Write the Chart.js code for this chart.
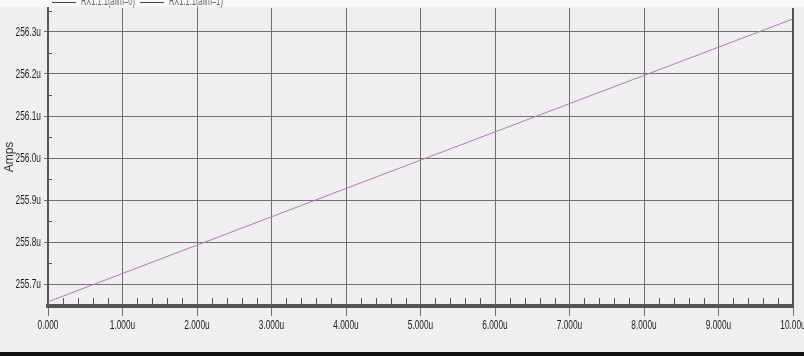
<!DOCTYPE html>
<html>
<head>
<meta charset="utf-8">
<script src="https://cdn.jsdelivr.net/npm/chart.js@4/dist/chart.umd.min.js"></script>
<style>
  html, body { margin: 0; padding: 0; background: #efefef; overflow: hidden; }
  #wrap { width: 804px; height: 352px; }
  #bar { width: 804px; height: 4px; background: #111; }
</style>
</head>
<body>
<div id="wrap"><canvas id="chart" width="804" height="352"></canvas></div>
<div id="bar"></div>
<script>
// time in microseconds, current in microamps
const timeUs = [0, 5, 10];
const ampsU = [255.658, 255.995, 256.331];
const xTicks = [0, 1, 2, 3, 4, 5, 6, 7, 8, 9, 10];
const xTickLabels = ['0.000', '1.000u', '2.000u', '3.000u', '4.000u', '5.000u', '6.000u', '7.000u', '8.000u', '9.000u', '10.00u'];
const yTicks = [255.7, 255.8, 255.9, 256.0, 256.1, 256.2, 256.3];
const yTickLabels = ['255.7u', '255.8u', '255.9u', '256.0u', '256.1u', '256.2u', '256.3u'];
const legendNames = ['RX1.1.1(alim=0)', 'RX1.1.1(alim=1)'];

const FONT = "'Liberation Sans', Arial, sans-serif";
const SQUISH = 0.64; // the screenshot text is horizontally narrow

// draw a horizontally condensed string
function narrowText(c, text, x, y, align, squish) {
  c.save();
  c.translate(x, y);
  c.scale(squish || SQUISH, 1);
  c.textAlign = align;
  c.fillText(text, 0, 0);
  c.restore();
}

const extras = {
  id: 'extras',
  beforeDraw(chart) {
    const c = chart.ctx;
    c.save();
    c.fillStyle = '#efefef';
    c.fillRect(0, 0, chart.width, chart.height);
    c.fillStyle = '#f8f8f8';
    c.fillRect(0, 0, chart.width, 7);
    c.restore();
  },
  afterDraw(chart) {
    const c = chart.ctx;
    const a = chart.chartArea;
    const x = chart.scales.x;
    const y = chart.scales.y;
    c.save();
    // minor ticks on x axis
    c.strokeStyle = '#555';
    c.lineWidth = 1;
    for (let i = 1; i < 50; i++) {
      if (i % 5 === 0) continue;
      const px = Math.round(x.getPixelForValue(i * 0.2)) + 0.5;
      c.beginPath();
      c.moveTo(px, a.bottom);
      c.lineTo(px, a.bottom - 8);
      c.stroke();
    }
    // minor ticks on y axis
    for (let v = 255.65; v < 256.36; v += 0.1) {
      const py = Math.round(y.getPixelForValue(v)) + 0.5;
      c.beginPath();
      c.moveTo(a.left, py);
      c.lineTo(a.left + 4, py);
      c.stroke();
    }
    // right border
    c.strokeStyle = '#555';
    c.lineWidth = 2;
    c.beginPath();
    c.moveTo(a.right, a.top);
    c.lineTo(a.right, a.bottom + 1);
    c.stroke();

    // tick labels
    c.fillStyle = '#1e1e1e';
    c.font = '13px ' + FONT;
    c.textBaseline = 'middle';
    yTicks.forEach((v, i) => {
      narrowText(c, yTickLabels[i], a.left - 7, y.getPixelForValue(v), 'right');
    });
    xTicks.forEach((v, i) => {
      narrowText(c, xTickLabels[i], x.getPixelForValue(v), a.bottom + 19, 'center');
    });

    // legend, clipped at top edge
    c.font = '12px ' + FONT;
    c.fillStyle = '#666';
    c.textBaseline = 'alphabetic';
    const legX = [52, 140];
    legendNames.forEach((name, i) => {
      c.strokeStyle = '#444';
      c.lineWidth = 1;
      c.beginPath();
      c.moveTo(legX[i], 2.5);
      c.lineTo(legX[i] + 24, 2.5);
      c.stroke();
      narrowText(c, name, legX[i] + 29, 5, 'left', 0.62);
    });
    c.restore();
  }
};

new Chart(document.getElementById('chart'), {
  type: 'line',
  data: {
    datasets: [{
      label: legendNames[0],
      data: timeUs.map((t, i) => ({ x: t, y: ampsU[i] })),
      borderColor: '#b878b8',
      borderWidth: 1,
      pointRadius: 0,
      tension: 0
    }]
  },
  options: {
    responsive: false,
    animation: false,
    layout: { padding: { top: 8, right: 11, left: 0, bottom: 0 } },
    plugins: { legend: { display: false }, tooltip: { enabled: false } },
    scales: {
      x: {
        type: 'linear',
        min: 0,
        max: 10,
        afterBuildTicks: s => { s.ticks = xTicks.map(v => ({ value: v })); },
        afterFit: s => { s.height = 46; s.paddingLeft = 0; s.paddingRight = 0; },
        ticks: { display: false },
        grid: { color: '#707070', lineWidth: 1, tickLength: 10, drawTicks: true },
        border: { color: '#555', width: 4 }
      },
      y: {
        type: 'linear',
        min: 255.648,
        max: 256.357,
        afterBuildTicks: s => { s.ticks = yTicks.map(v => ({ value: v })); },
        afterFit: s => { s.width = 48; s.paddingTop = 0; s.paddingBottom = 0; },
        ticks: { display: false },
        title: {
          display: true,
          text: 'Amps',
          color: '#333',
          font: { family: FONT, size: 12 },
          padding: { top: 2, bottom: 0 }
        },
        grid: { color: '#707070', lineWidth: 1, tickLength: 4, drawTicks: true },
        border: { color: '#555', width: 2 }
      }
    }
  },
  plugins: [extras]
});
</script>
</body>
</html>
